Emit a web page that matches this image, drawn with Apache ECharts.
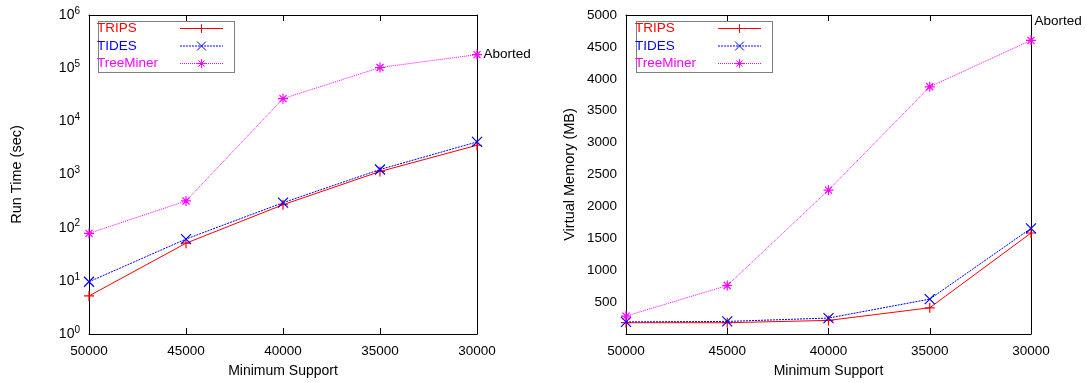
<!DOCTYPE html>
<html>
<head>
<meta charset="utf-8">
<script src="https://cdn.jsdelivr.net/npm/echarts@6/dist/echarts.min.js"></script>
<style>
  html, body { margin: 0; padding: 0; background: #fff; }
  #main { width: 1086px; height: 383px; }
</style>
</head>
<body>
<div id="main"></div>
<script>
// data
var categories = ['50000', '45000', '40000', '35000', '30000']
var runTimeTrips = [5.2, 51, 270, 1140, 3550]
var runTimeTides = [9.6, 61, 295, 1240, 4100]
var runTimeTreeMiner = [78, 318, 26700, 103000, 180000]
var memTrips = [177, 177, 213, 411, 1583]
var memTides = [190, 197, 250, 547, 1656]
var memTreeMiner = [281, 760, 2255, 3875, 4603]
var logMajor = [1, 10, 100, 1000, 10000, 100000, 1000000]
var logMinor = [2, 5, 20, 50, 200, 500, 2000, 5000, 20000, 50000, 200000, 500000]

var FONT = 'Liberation Sans, Arial, sans-serif'
var RED = '#ff0000', BLUE = '#0000ff', MAG = '#ff00ff'
var SYM_PLUS = 'path://M0,5L10,5M5,0L5,10'
var SYM_X = 'path://M0,0L10,10M10,0L0,10'
var SYM_STAR = 'path://M0,5L10,5M5,0L5,10M1.5,1.5L8.5,8.5M8.5,1.5L1.5,8.5'

var grids = [
  { left: 89, top: 15, width: 388, height: 320 },
  { left: 626, top: 15, width: 405, height: 320 }
]

function catAxis (gi, pos, withLabel, name) {
  return {
    type: 'category', gridIndex: gi, position: pos, data: categories, boundaryGap: false,
    name: name || '', nameLocation: 'middle', nameGap: 30,
    nameTextStyle: { fontFamily: FONT, fontSize: 14, color: '#000' },
    axisLine: { show: true, onZero: false, lineStyle: { color: '#000', width: 1 } },
    axisTick: { inside: true, length: 6, alignWithLabel: true, lineStyle: { color: '#000' } },
    axisLabel: { show: withLabel, margin: 10, fontFamily: FONT, fontSize: 13.5, color: '#000' },
    splitLine: { show: false }
  }
}

function logAxis (pos, withLabel, ticks, len, name) {
  return {
    type: 'log', gridIndex: 0, position: pos, min: 1, max: 1000000, logBase: 10,
    name: name || '', nameLocation: 'middle', nameGap: 65,
    nameTextStyle: { fontFamily: FONT, fontSize: 14.5, color: '#000' },
    axisLine: { show: len > 4, onZero: false, lineStyle: { color: '#000', width: 1 } },
    axisTick: { inside: true, length: len, customValues: ticks, lineStyle: { color: '#000' } },
    axisLabel: {
      show: withLabel, margin: 9, customValues: logMajor,
      fontFamily: FONT, fontSize: 14, color: '#000',
      formatter: function (v) { return '10{s|' + Math.round(Math.log10(v)) + '}' },
      rich: { s: { fontFamily: FONT, fontSize: 10, color: '#000', padding: [0, 0, 8, 0] } }
    },
    splitLine: { show: false }
  }
}

function memAxis (pos, withLabel, name) {
  return {
    type: 'value', gridIndex: 1, position: pos, min: 0, max: 5000, interval: 500,
    name: name || '', nameLocation: 'middle', nameGap: 49,
    nameTextStyle: { fontFamily: FONT, fontSize: 14.5, color: '#000' },
    axisLine: { show: true, onZero: false, lineStyle: { color: '#000', width: 1 } },
    axisTick: { inside: true, length: 6, lineStyle: { color: '#000' } },
    axisLabel: {
      show: withLabel, margin: 9, fontFamily: FONT, fontSize: 13.5, color: '#000',
      formatter: function (v) { return v === 0 ? '' : String(v) }
    },
    splitLine: { show: false }
  }
}

function lineSeries (name, data, xi, yi, color, dash, symbol, aborted) {
  var last = data.length - 1
  return {
    name: name, type: 'line', xAxisIndex: xi, yAxisIndex: yi, data: data,
    symbol: symbol, symbolSize: 10, showSymbol: true, animation: false,
    lineStyle: { color: color, width: 1, type: dash },
    itemStyle: { color: color, borderColor: color, borderWidth: 1.2 },
    label: {
      show: !!aborted, position: 'right', distance: 1,
      offset: aborted === 'up' ? [-3, -19] : [0, 0],
      fontFamily: FONT, fontSize: 13.5, color: '#000',
      formatter: function (p) { return p.dataIndex === last ? 'Aborted' : '' }
    }
  }
}

function legendFor (left) {
  return {
    left: left, top: 19, orient: 'vertical', align: 'right',
    padding: [2.5, 8, 2.5, 1], itemGap: 3.5, itemWidth: 43, itemHeight: 11,
    borderWidth: 0,
    lineStyle: { width: 1 },
    itemStyle: { borderWidth: 1 },
    textStyle: {
      fontFamily: FONT, fontSize: 13.5,
      rich: { a: { fontFamily: FONT, fontSize: 13.5, width: 78, align: 'left' } }
    },
    formatter: function (name) { return '{a|' + name + '}' },
    data: [
      { name: 'TRIPS', textStyle: { color: RED } },
      { name: 'TIDES', textStyle: { color: BLUE } },
      { name: 'TreeMiner', textStyle: { color: MAG } }
    ]
  }
}

// dotted frame around each legend
function legendFrame (x) {
  return {
    type: 'rect', left: x, top: 19, silent: true,
    shape: { width: 136, height: 51 },
    style: { fill: 'none', stroke: '#000', lineWidth: 1, lineDash: [1, 1] }
  }
}

var chart = echarts.init(document.getElementById('main'))
var option = {
  backgroundColor: '#fff',
  animation: false,
  grid: grids,
  legend: [legendFor(96), legendFor(634)],
  graphic: [legendFrame(96), legendFrame(634)],
  xAxis: [
    catAxis(0, 'bottom', true, 'Minimum Support'),
    catAxis(0, 'top', false),
    catAxis(1, 'bottom', true, 'Minimum Support'),
    catAxis(1, 'top', false)
  ],
  yAxis: [
    logAxis('left', true, logMajor, 6, 'Run Time (sec)'),
    logAxis('right', false, logMajor, 6),
    logAxis('left', false, logMinor, 3),
    logAxis('right', false, logMinor, 3),
    memAxis('left', true, 'Virtual Memory (MB)'),
    memAxis('right', false)
  ],
  series: [
    lineSeries('TRIPS', runTimeTrips, 0, 0, RED, 'solid', SYM_PLUS),
    lineSeries('TIDES', runTimeTides, 0, 0, BLUE, [2, 1], SYM_X),
    lineSeries('TreeMiner', runTimeTreeMiner, 0, 0, MAG, [1, 1], SYM_STAR, 'right'),
    lineSeries('TRIPS', memTrips, 2, 4, RED, 'solid', SYM_PLUS),
    lineSeries('TIDES', memTides, 2, 4, BLUE, [2, 1], SYM_X),
    lineSeries('TreeMiner', memTreeMiner, 2, 4, MAG, [1, 1], SYM_STAR, 'up')
  ]
}
chart.setOption(option)
</script>
</body>
</html>
